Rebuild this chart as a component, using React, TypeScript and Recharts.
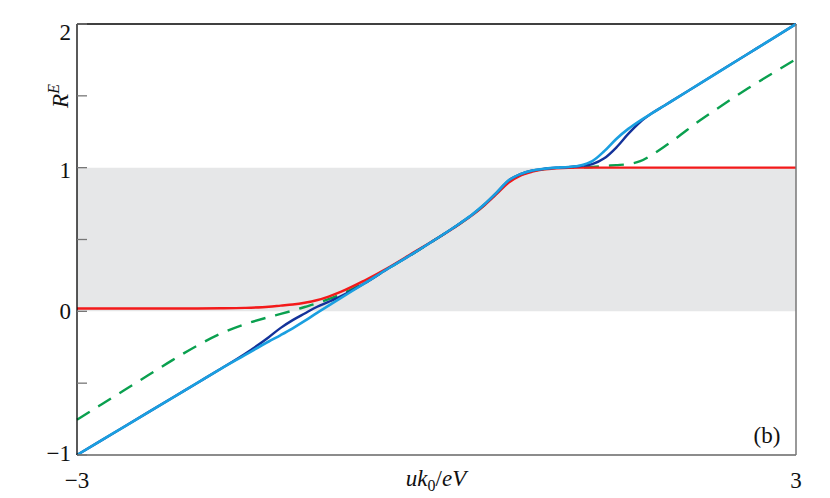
import {
  LineChart,
  Line,
  XAxis,
  YAxis,
  ReferenceArea,
  ReferenceLine,
} from "recharts";

// x = u k0 / eV
const xs = [
  -3, -2.8, -2.6, -2.4, -2.2, -2.0, -1.8, -1.6, -1.4, -1.3, -1.2, -1.1, -1.0, -0.9, -0.8, -0.6,
  -0.4, -0.2, 0, 0.2, 0.3, 0.4, 0.5, 0.6, 0.7, 0.8, 0.9, 1.0, 1.1, 1.2, 1.3, 1.4, 1.5, 1.6,
  1.7, 1.8, 1.9, 2.0, 2.2, 2.4, 2.6, 2.8, 3.0,
];

const lightBlue = [
  -1, -0.9, -0.8, -0.7, -0.6, -0.5, -0.4, -0.305, -0.21, -0.165, -0.118, -0.067, -0.012, 0.04,
  0.092, 0.195, 0.3, 0.4, 0.505, 0.615, 0.675, 0.745, 0.825, 0.91, 0.955, 0.98, 0.992, 1.0,
  1.005, 1.015, 1.045, 1.115, 1.2, 1.27, 1.328, 1.38, 1.431, 1.483, 1.586, 1.69, 1.793,
  1.896, 2.0,
];

const darkBlue = [
  -1, -0.9, -0.8, -0.7, -0.6, -0.5, -0.4, -0.297, -0.18, -0.115, -0.061, -0.015, 0.03, 0.066,
  0.104, 0.195, 0.3, 0.4, 0.505, 0.615, 0.675, 0.745, 0.825, 0.91, 0.955, 0.98, 0.992, 1.0,
  1.004, 1.012, 1.025, 1.065, 1.14, 1.235, 1.318, 1.38, 1.431, 1.483, 1.586, 1.69, 1.793,
  1.896, 2.0,
];

const red = [
  0.02, 0.02, 0.02, 0.02, 0.02, 0.02, 0.021, 0.024, 0.032, 0.04, 0.048, 0.06, 0.077, 0.103,
  0.135, 0.215, 0.305, 0.405, 0.505, 0.612, 0.67, 0.738, 0.815, 0.895, 0.945, 0.972, 0.988,
  0.995, 0.999, 1, 1, 1, 1, 1, 1, 1, 1, 1, 1, 1, 1, 1, 1,
];

const green = [
  -0.754, -0.65, -0.546, -0.442, -0.338, -0.24, -0.155, -0.09, -0.04, -0.018, 0.005, 0.03,
  0.055, 0.085, 0.118, 0.2, 0.3, 0.4, 0.505, 0.613, 0.672, 0.74, 0.82, 0.9, 0.948, 0.975,
  0.99, 0.998, 1.0, 1.002, 1.005, 1.012, 1.018, 1.025, 1.045, 1.09, 1.145, 1.205, 1.33,
  1.443, 1.552, 1.655, 1.755,
];

const yTicks = [-1, -0.5, 0, 0.5, 1, 1.5, 2];
const xTicks = [-3, 3];

const data = xs.map((x, i) => ({
  x,
  lightBlue: lightBlue[i],
  darkBlue: darkBlue[i],
  red: red[i],
  green: green[i],
}));

const FONT = '"Liberation Serif", "DejaVu Serif", serif';
const fmt = (v: number) => (v < 0 ? `\u2212${-v}` : `${v}`);
const labelShift: Record<string, number> = { "2": 8, "1": 2, "-1": -2 };

const LeftTick = (props: any) => {
  const { x, y, payload } = props;
  const v = payload.value as number;
  const showLabel = Number.isInteger(v);
  return (
    <g>
      <line x1={x} x2={x + 10} y1={y} y2={y} stroke="#777" strokeWidth={1.3} />
      {showLabel && (
        <text
          x={x - 6}
          y={y + 8 + (labelShift[String(v)] ?? 0)}
          textAnchor="end"
          fontFamily={FONT}
          fontSize={23}
          fill="#111"
        >
          {fmt(v)}
        </text>
      )}
    </g>
  );
};

const RightTick = (props: any) => {
  const { x, y } = props;
  return <line x1={x - 10} x2={x} y1={y} y2={y} stroke="#777" strokeWidth={1.3} />;
};

const BottomTick = (props: any) => {
  const { x, y, payload } = props;
  return (
    <text x={x} y={y + 33} textAnchor="middle" fontFamily={FONT} fontSize={23} fill="#111">
      {fmt(payload.value)}
    </text>
  );
};

export default function App() {
  return (
    <div style={{ position: "absolute", left: 0, top: 0, width: 830, height: 498, background: "#fff" }}>
      <LineChart
        width={830}
        height={498}
        data={data}
        margin={{ top: 24, right: 14, left: 17, bottom: 13 }}
      >
        <XAxis
          dataKey="x"
          type="number"
          domain={[-3, 3]}
          ticks={xTicks}
          tickSize={0}
          tickMargin={0}
          tickLine={false}
          tick={<BottomTick />}
          axisLine={{ stroke: "#666", strokeWidth: 1.5 }}
          height={30}
        />
        <YAxis
          yAxisId="left"
          type="number"
          domain={[-1, 2]}
          ticks={yTicks}
          tickSize={0}
          tickMargin={0}
          tickLine={false}
          tick={<LeftTick />}
          axisLine={{ stroke: "#000", strokeWidth: 1.3 }}
          width={60}
        />
        <YAxis
          yAxisId="right"
          orientation="right"
          type="number"
          domain={[-1, 2]}
          ticks={yTicks}
          tickSize={0}
          tickMargin={0}
          tickLine={false}
          tick={<RightTick />}
          axisLine={{ stroke: "#777", strokeWidth: 1.5 }}
          width={20}
        />
        <ReferenceArea yAxisId="left" y1={0} y2={1} fill="#e6e7e8" fillOpacity={1} stroke="none" />
        <ReferenceLine yAxisId="left" y={2} stroke="#000" strokeWidth={1.3} />
        <Line
          yAxisId="left"
          type="monotone"
          dataKey="green"
          stroke="#0aa04f"
          strokeWidth={2.4}
          strokeDasharray="15 10"
          dot={false}
          isAnimationActive={false}
        />
        <Line
          yAxisId="left"
          type="monotone"
          dataKey="red"
          stroke="#f31a1a"
          strokeWidth={2.4}
          dot={false}
          isAnimationActive={false}
        />
        <Line
          yAxisId="left"
          type="monotone"
          dataKey="darkBlue"
          stroke="#13329a"
          strokeWidth={2.4}
          dot={false}
          isAnimationActive={false}
        />
        <Line
          yAxisId="left"
          type="monotone"
          dataKey="lightBlue"
          stroke="#1a9fe0"
          strokeWidth={2.6}
          dot={false}
          isAnimationActive={false}
        />
      </LineChart>
      <svg
        width={830}
        height={498}
        style={{ position: "absolute", left: 0, top: 0, pointerEvents: "none" }}
      >
        <text
          transform="translate(68,96) rotate(-90)"
          textAnchor="middle"
          fontFamily={FONT}
          fontSize={23}
          fill="#111"
        >
          <tspan fontStyle="italic">R</tspan>
          <tspan fontStyle="italic" fontSize={16} dy={-9}>E</tspan>
        </text>
        <text x={436} y={486} textAnchor="middle" fontFamily={FONT} fontSize={23} fill="#111">
          <tspan fontStyle="italic">uk</tspan>
          <tspan fontSize={16} dy={5}>0</tspan>
          <tspan dy={-5}>/</tspan>
          <tspan fontStyle="italic">eV</tspan>
        </text>
        <text x={767} y={443} textAnchor="middle" fontFamily={FONT} fontSize={23} fill="#111">
          (b)
        </text>
      </svg>
    </div>
  );
}
